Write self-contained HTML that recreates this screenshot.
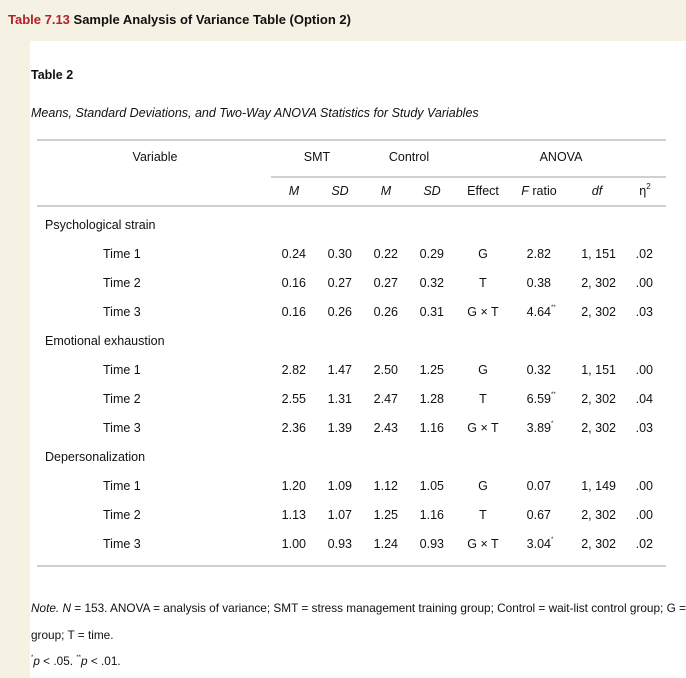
<!DOCTYPE html>
<html><head><meta charset="utf-8"><style>
body{margin:0;width:686px;height:678px;background:#f5f2e4;font-family:"Liberation Sans",Arial,sans-serif;font-size:12.5px;color:#111;position:relative;overflow:hidden}
.w{position:absolute;left:30px;top:41px;width:656px;height:637px;background:#fff}
.a{position:absolute;white-space:nowrap;line-height:14px}
.c{transform:translateX(-50%)}
.r{transform:translateX(-100%)}
.rule{position:absolute;height:2px;background:#d0d0d0}
i{font-style:italic}
sup{font-size:6px;vertical-align:6px;line-height:0}
</style></head><body>
<div class="a" style="left:8px;top:13px;font-size:13px;font-weight:bold"><span style="color:#b3202a">Table 7.13</span> Sample Analysis of Variance Table (Option 2)</div>
<div class="w"></div>
<div class="a" style="left:31px;top:68px;font-weight:bold">Table 2</div>
<div class="a" style="left:31px;top:106px;font-size:12.5px"><i>Means, Standard Deviations, and Two-Way ANOVA Statistics for Study Variables</i></div>
<div class="rule" style="left:37px;top:139px;width:629px"></div>
<div class="a c" style="left:155px;top:150px">Variable</div>
<div class="a c" style="left:317px;top:150px">SMT</div>
<div class="a c" style="left:409px;top:150px">Control</div>
<div class="a c" style="left:561px;top:150px">ANOVA</div>
<div class="rule" style="left:271px;top:176px;width:395px"></div>
<div class="a c" style="left:294px;top:184px"><i>M</i></div>
<div class="a c" style="left:340px;top:184px"><i>SD</i></div>
<div class="a c" style="left:386px;top:184px"><i>M</i></div>
<div class="a c" style="left:432px;top:184px"><i>SD</i></div>
<div class="a c" style="left:483px;top:184px">Effect</div>
<div class="a c" style="left:539px;top:184px"><i>F</i> ratio</div>
<div class="a c" style="left:597px;top:184px"><i>df</i></div>
<div class="a c" style="left:645px;top:184px">η<sup style="font-size:8px">2</sup></div>
<div class="rule" style="left:37px;top:205px;width:629px"></div>
<div id="rows"></div>
<div class="rule" style="left:37px;top:565px;width:629px"></div>
<div class="a" style="left:31px;top:601px;font-size:11.8px"><i>Note.</i> <i>N</i> = 153. ANOVA = analysis of variance; SMT = stress management training group; Control = wait-list control group; G =</div>
<div class="a" style="left:31px;top:628px;font-size:11.8px">group; T = time.</div>
<div class="a" style="left:31px;top:654px;font-size:11.8px"><sup>*</sup><i>p</i> &lt; .05. <sup>**</sup><i>p</i> &lt; .01.</div>
<script>
var d=[["Psychological strain"],["Time 1","0.24","0.30","0.22","0.29","G","2.82","","1, 151",".02"],["Time 2","0.16","0.27","0.27","0.32","T","0.38","","2, 302",".00"],["Time 3","0.16","0.26","0.26","0.31","G × T","4.64","**","2, 302",".03"],
["Emotional exhaustion"],["Time 1","2.82","1.47","2.50","1.25","G","0.32","","1, 151",".00"],["Time 2","2.55","1.31","2.47","1.28","T","6.59","**","2, 302",".04"],["Time 3","2.36","1.39","2.43","1.16","G × T","3.89","*","2, 302",".03"],
["Depersonalization"],["Time 1","1.20","1.09","1.12","1.05","G","0.07","","1, 149",".00"],["Time 2","1.13","1.07","1.25","1.16","T","0.67","","2, 302",".00"],["Time 3","1.00","0.93","1.24","0.93","G × T","3.04","*","2, 302",".02"]];
var h="",y=218;
d.forEach(function(r){
 if(r.length==1){h+='<div class="a" style="left:45px;top:'+y+'px">'+r[0]+'</div>';}
 else{
  h+='<div class="a" style="left:103px;top:'+y+'px">'+r[0]+'</div>';
  var xs=[306,352,398,444];
  for(var i=0;i<4;i++)h+='<div class="a r" style="left:'+xs[i]+'px;top:'+y+'px">'+r[i+1]+'</div>';
  h+='<div class="a c" style="left:483px;top:'+y+'px">'+r[5]+'</div>';
  h+='<div class="a r" style="left:551px;top:'+y+'px">'+r[6]+'</div>';
  if(r[7])h+='<div class="a" style="left:551px;top:'+(y-1)+'px;font-size:6px;line-height:8px">'+r[7]+'</div>';
  h+='<div class="a r" style="left:616px;top:'+y+'px">'+r[8]+'</div>';
  h+='<div class="a r" style="left:653px;top:'+y+'px">'+r[9]+'</div>';
 }
 y+=29;
});
document.getElementById("rows").innerHTML=h;
</script>
</body></html>
